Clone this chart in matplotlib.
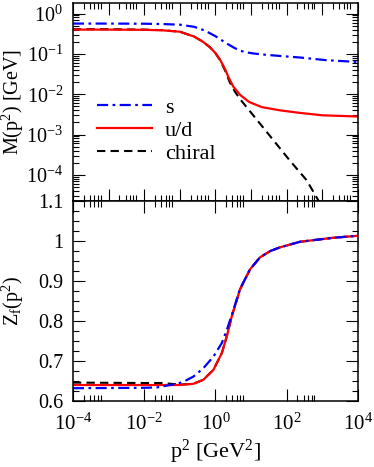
import numpy as np
import matplotlib
matplotlib.use("Agg")
import matplotlib.pyplot as plt
from matplotlib.ticker import FixedLocator, MultipleLocator, FuncFormatter, LogLocator, NullFormatter

plt.rcParams["font.family"] = ["Liberation Serif", "DejaVu Serif"]
plt.rcParams["mathtext.fontset"] = "custom"
plt.rcParams["mathtext.rm"] = "Liberation Serif"
plt.rcParams["mathtext.it"] = "Liberation Serif:italic"
plt.rcParams["font.size"] = 16

# ===== data: log10(p^2) and values =====
s_logp2 = [-4, -3, -2, -1.5, -1.0, -0.6, -0.3, 0.0, 0.3, 0.55, 0.7, 0.85, 1.05, 1.3, 1.8, 2.4, 3.1, 4.0]
s_mass = [0.565, 0.565, 0.56, 0.55, 0.53, 0.47, 0.38, 0.275, 0.185, 0.138, 0.12, 0.110, 0.103, 0.097, 0.089, 0.081,
          0.070, 0.063]

ud_logp2 = [-4, -3, -2, -1.5, -1.0, -0.6, -0.35, -0.15, 0.0, 0.13, 0.27, 0.37, 0.5, 0.7, 0.95, 1.3, 1.8, 2.3, 3.0, 4.0]
ud_mass = [0.40, 0.40, 0.395, 0.385, 0.355, 0.27, 0.20, 0.145, 0.105, 0.072, 0.042, 0.026, 0.0155, 0.0095, 0.0064,
           0.0048, 0.0040, 0.0035, 0.0030, 0.0028]

ch_logp2 = [-4, -3, -2, -1.5, -1.0, -0.6, -0.35, -0.15, 0.0, 0.13, 0.27, 0.4, 0.55, 0.69, 1.0, 1.63, 2.1, 2.56, 2.88, 3.1]
ch_mass = [0.41, 0.41, 0.40, 0.388, 0.355, 0.27, 0.20, 0.145, 0.104, 0.070, 0.039, 0.020, 0.0115, 0.0076, 0.0035,
           7.2e-4, 2.2e-4, 7.4e-5, 2.4e-5, 1.1e-5]

ud_z_logp2 = [-4, -2, -1.0, -0.62, -0.34, -0.056, 0.18, 0.32, 0.46, 0.69, 0.97, 1.25, 1.54, 1.81, 2.37, 3.3, 4.0]
ud_z = [0.640, 0.640, 0.640, 0.643, 0.653, 0.678, 0.72, 0.762, 0.812, 0.879, 0.929, 0.959, 0.975, 0.984, 0.998, 1.008, 1.013]

s_z_logp2 = [-4, -2, -1.64, -1.27, -1.08, -0.9, -0.62, -0.34, -0.056, 0.18, 0.32, 0.46, 0.69, 0.97, 1.25, 1.54, 1.81,
             2.37, 3.3, 4.0]
s_z = [0.632, 0.633, 0.634, 0.640, 0.643, 0.648, 0.661, 0.682, 0.711, 0.745, 0.778, 0.815, 0.880, 0.929, 0.959, 0.975,
       0.984, 0.998, 1.008, 1.013]

ch_z_logp2 = [-4, -2, -1.5, -1.0, -0.62, -0.34, -0.056, 0.18, 0.32, 0.46, 0.69, 0.97, 1.25, 1.54, 1.81, 2.37, 3.3, 4.0]
ch_z = [0.646, 0.645, 0.645, 0.641, 0.643, 0.653, 0.678, 0.72, 0.762, 0.812, 0.879, 0.929, 0.959, 0.975, 0.984, 0.998,
        1.008, 1.013]

labels = ["s", "u/d", "chiral"]

# ===== styles =====
dashdot = (0, (5, 2, 1.2, 2))
dashed = (0, (4, 2.5))

fig = plt.figure(figsize=(3.74, 4.67), dpi=100)
ax1 = fig.add_axes([0.195, 0.5696, 0.762, 0.4240])
ax2 = fig.add_axes([0.195, 0.1413, 0.762, 0.4283])


def p2(lp):
    return 10.0 ** np.array(lp)


# --- top: mass function ---
ax1.plot(p2(ch_logp2), ch_mass, color="black", ls=dashed, lw=1.5, label=labels[2])
ax1.plot(p2(ud_logp2), ud_mass, color="red", ls="-", lw=1.6, label=labels[1])
ax1.plot(p2(s_logp2), s_mass, color="blue", ls=dashdot, lw=1.6, label=labels[0])
ax1.set_xscale("log")
ax1.set_yscale("log")
ax1.set_xlim(1e-4, 1e4)
ax1.set_ylim(2.25e-5, 1.83)
ax1.set_ylabel(r"M(p$^2$) [GeV]", fontsize=14.5)

h, l = ax1.get_legend_handles_labels()
ax1.legend(h[::-1], l[::-1], loc="center left", bbox_to_anchor=(0.084, 0.355), frameon=False,
           borderpad=0, borderaxespad=0, handlelength=2.5, handletextpad=0.55, labelspacing=0.12)

# --- bottom: wave function renormalisation ---
ax2.plot(p2(ch_z_logp2), ch_z, color="black", ls=dashed, lw=1.5)
ax2.plot(p2(ud_z_logp2), ud_z, color="red", ls="-", lw=1.6)
ax2.plot(p2(s_z_logp2), s_z, color="blue", ls=dashdot, lw=1.6)
ax2.set_xscale("log")
ax2.set_xlim(1e-4, 1e4)
ax2.set_ylim(0.6, 1.1)
ax2.set_ylabel(r"Z$_{\rm f}$(p$^2$)", fontsize=14.5)
ax2.set_xlabel(r"p$^2$ [GeV$^2$]", labelpad=2)

# --- ticks (xmgrace look) ---
decades = list(range(-4, 5))
ax1.xaxis.set_major_locator(FixedLocator([10.0 ** d for d in decades]))
ax1.xaxis.set_minor_locator(FixedLocator([k * 10.0 ** d for d in decades[:-1] for k in range(2, 7)]))
ax1.xaxis.set_major_formatter(NullFormatter())
ax1.xaxis.set_minor_formatter(NullFormatter())
ax1.yaxis.set_major_locator(LogLocator(base=10, numticks=20))
ax1.yaxis.set_minor_locator(LogLocator(base=10, subs=np.arange(2, 10), numticks=20))
ax1.yaxis.set_minor_formatter(NullFormatter())

even = [-4, -2, 0, 2, 4]
ax2.xaxis.set_major_locator(FixedLocator([10.0 ** d for d in even]))
ax2.xaxis.set_minor_locator(FixedLocator([k * 10.0 ** d for d in even[:-1] for k in range(2, 7)]))
ax2.xaxis.set_minor_formatter(NullFormatter())
ax2.yaxis.set_major_locator(MultipleLocator(0.1))
ax2.yaxis.set_minor_locator(MultipleLocator(0.025))
ax2.yaxis.set_major_formatter(FuncFormatter(lambda v, pos: f"{v:g}"))

for ax in (ax1, ax2):
    ax.tick_params(which="both", direction="in", top=True, right=True, width=0.8)
    ax.tick_params(which="major", length=8.5, pad=7, labelsize=14.5)
    ax.tick_params(which="minor", length=4.3)
    for sp in ax.spines.values():
        sp.set_linewidth(1.1)
ax2.tick_params(axis="x", which="major", pad=9, labelsize=15)

ax1.yaxis.set_label_coords(-0.163, 0.5)
ax2.yaxis.set_label_coords(-0.163, 0.5)

fig.savefig("out.png", dpi=100)
